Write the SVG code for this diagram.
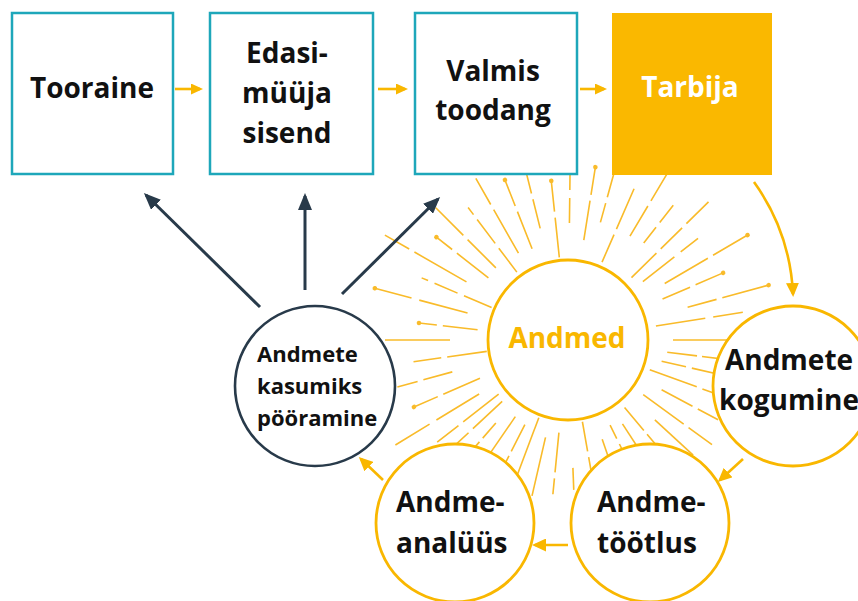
<svg xmlns="http://www.w3.org/2000/svg" width="858" height="601" viewBox="0 0 858 601">
  <style>
    text { font-family: "Open Sans", "Liberation Sans", sans-serif; font-weight: 700; }
    .box { fill: #ffffff; stroke: #1ea7ba; stroke-width: 2.5; }
    .lbl { font-size: 28px; fill: #111111; }
    .small { font-size: 22px; fill: #111111; }
    .ring { fill: #ffffff; stroke: #f9b700; stroke-width: 2.8; }
    .ring-dark { fill: #ffffff; stroke: #283a4a; stroke-width: 2.6; }
    .ray line { stroke: #f9bb2a; stroke-width: 1.6; fill: none; }
    .ray circle { fill: #f9bb2a; }
    .flow { stroke: #f9b700; stroke-width: 2.6; fill: none; }
    .use { stroke: #283a4a; stroke-width: 3; fill: none; }
  </style>
  <defs>
    <marker id="ao" viewBox="0 0 12 11" markerWidth="12" markerHeight="11" refX="9" refY="5.5" orient="auto" markerUnits="userSpaceOnUse">
      <path d="M0,0 L12,5.5 L0,11 z" fill="#f9b700"/>
    </marker>
    <marker id="aoL" viewBox="0 0 14 13" markerWidth="14" markerHeight="13" refX="11" refY="6.5" orient="auto" markerUnits="userSpaceOnUse">
      <path d="M0,0 L14,6.5 L0,13 z" fill="#f9b700"/>
    </marker>
    <marker id="ad" viewBox="0 0 17 14" markerWidth="17" markerHeight="14" refX="14" refY="7" orient="auto" markerUnits="userSpaceOnUse">
      <path d="M0,0 L17,7 L0,14 z" fill="#283a4a"/>
    </marker>
  </defs>

  <!-- radiating data rays around the central circle -->
  <g id="rays" class="ray" transform="translate(568,340)">
    <g transform="rotate(0)"><line x1="105" x2="170"/></g>
    <g transform="rotate(7)"><line x1="100" x2="165" stroke-dasharray="30 5 60"/></g>
    <g transform="rotate(12.8)"><line x1="96" x2="160" stroke-dasharray="25 6 60"/></g>
    <g transform="rotate(20)"><line x1="87" x2="158" stroke-dasharray="50 6 40"/></g>
    <g transform="rotate(28)"><line x1="106" x2="170" stroke-dasharray="35 6 40"/></g>
    <g transform="rotate(36)"><line x1="93" x2="178" stroke-dasharray="50 6 35"/></g>
    <g transform="rotate(42.6)"><line x1="118" x2="170"/></g>
    <g transform="rotate(50)"><line x1="88" x2="140" stroke-dasharray="30 5 40"/></g>
    <g transform="rotate(57)"><line x1="100" x2="150"/></g>
    <g transform="rotate(63.7)"><line x1="95" x2="150" stroke-dasharray="15 6 40"/></g>
    <g transform="rotate(71)"><line x1="105" x2="160"/></g>
    <g transform="rotate(80)"><line x1="83" x2="135" stroke-dasharray="30 6 30"/></g>
    <g transform="rotate(87.8)"><line x1="128" x2="150"/></g>
    <g transform="rotate(95.6)"><line x1="93" x2="155" stroke-dasharray="40 6 30"/></g>
    <g transform="rotate(103)"><line x1="100" x2="160"/></g>
    <g transform="rotate(110.6)"><line x1="83" x2="145"/></g>
    <g transform="rotate(117)"><line x1="95" x2="150" stroke-dasharray="30 5 30"/></g>
    <g transform="rotate(124.5)"><line x1="93" x2="140"/></g>
    <g transform="rotate(131)"><line x1="110" x2="160" stroke-dasharray="20 5 40"/></g>
    <g transform="rotate(137)"><line x1="90" x2="155" stroke-dasharray="40 6 30"/></g>
    <g transform="rotate(142)"><line x1="88" x2="166" stroke-dasharray="45 6 30"/></g>
    <g transform="rotate(148.7)"><line x1="104" x2="206" stroke-dasharray="50 8 40 8 60"/></g>
    <g transform="rotate(156.5)"><line x1="96" x2="168" stroke-dasharray="40 6 40"/><circle cx="168" cy="0" r="2.3"/></g>
    <g transform="rotate(164.6)"><line x1="120" x2="177" stroke-dasharray="30 6 30"/></g>
    <g transform="rotate(172)"><line x1="82" x2="156" stroke-dasharray="40 6 40"/></g>
    <g transform="rotate(180)"><line x1="118" x2="190" stroke-dasharray="65 8 100"/></g>
    <g transform="rotate(186.5)"><line x1="91" x2="150" stroke-dasharray="35 6 30"/><circle cx="150" cy="0" r="2.3"/></g>
    <g transform="rotate(195)"><line x1="104" x2="200" stroke-dasharray="50 8 50"/><circle cx="200" cy="0" r="2.3"/></g>
    <g transform="rotate(203)"><line x1="83" x2="159" stroke-dasharray="30 7 25 7 40"/></g>
    <g transform="rotate(209.8)"><line x1="117" x2="211" stroke-dasharray="60 6 40"/></g>
    <g transform="rotate(218)"><line x1="101" x2="167" stroke-dasharray="40 6 40"/><circle cx="167" cy="0" r="2.3"/></g>
    <g transform="rotate(225)"><line x1="102" x2="187" stroke-dasharray="40 6 40"/></g>
    <g transform="rotate(233)"><line x1="85" x2="166" stroke-dasharray="30 6 30 6 40"/></g>
    <g transform="rotate(240.3)"><line x1="100" x2="190" stroke-dasharray="50 6 30"/></g>
    <g transform="rotate(248.5)"><line x1="98" x2="172" stroke-dasharray="40 6 30"/><circle cx="172" cy="0" r="2.3"/></g>
    <g transform="rotate(256)"><line x1="115" x2="180" stroke-dasharray="30 6 40"/></g>
    <g transform="rotate(264)"><line x1="83" x2="160" stroke-dasharray="40 6 30"/><circle cx="160" cy="0" r="2.3"/></g>
    <g transform="rotate(270.7)"><line x1="117" x2="175" stroke-dasharray="25 8 30"/></g>
    <g transform="rotate(279)"><line x1="101" x2="175" stroke-dasharray="40 6 30"/><circle cx="175" cy="0" r="2.3"/></g>
    <g transform="rotate(285.4)"><line x1="122" x2="180" stroke-dasharray="20 6 40"/></g>
    <g transform="rotate(293.6)"><line x1="85" x2="165" stroke-dasharray="30 6 50"/></g>
    <g transform="rotate(300.8)"><line x1="121" x2="200" stroke-dasharray="35 6 50"/></g>
    <g transform="rotate(308)"><line x1="123" x2="171" stroke-dasharray="20 6 30"/></g>
    <g transform="rotate(315.5)"><line x1="89" x2="197" stroke-dasharray="35 6 30 6 40"/></g>
    <g transform="rotate(322)"><line x1="95" x2="165" stroke-dasharray="40 8 30"/></g>
    <g transform="rotate(329.7)"><line x1="112" x2="208" stroke-dasharray="50 6 50"/><circle cx="208" cy="0" r="2.3"/></g>
    <g transform="rotate(336.6)"><line x1="103" x2="169" stroke-dasharray="30 6 30"/><circle cx="169" cy="0" r="2.3"/></g>
    <g transform="rotate(344.7)"><line x1="124" x2="208" stroke-dasharray="30 6 50"/><circle cx="208" cy="0" r="2.3"/></g>
    <g transform="rotate(351)"><line x1="89" x2="177" stroke-dasharray="50 8 40"/></g>
  </g>

  <!-- value chain boxes -->
  <g id="tooraine">
    <rect class="box" x="12" y="13" width="161" height="161"/>
    <text class="lbl" x="92" y="98" text-anchor="middle">Tooraine</text>
  </g>
  <g id="edasimyyja">
    <rect class="box" x="210" y="13" width="163" height="161"/>
    <text class="lbl" x="287" text-anchor="middle"><tspan x="287" y="63">Edasi-</tspan><tspan x="287" y="103">müüja</tspan><tspan x="287" y="143">sisend</tspan></text>
  </g>
  <g id="valmis">
    <rect class="box" x="415" y="13" width="162" height="161"/>
    <text class="lbl" text-anchor="middle"><tspan x="493" y="81">Valmis</tspan><tspan x="493" y="120">toodang</tspan></text>
  </g>
  <g id="tarbija">
    <rect x="612" y="13" width="160" height="162" fill="#fab800"/>
    <text class="lbl" x="690" y="97" text-anchor="middle" fill="#ffffff" style="fill:#ffffff">Tarbija</text>
  </g>

  <!-- data cycle circles -->
  <g id="andmed">
    <circle class="ring" cx="568" cy="340" r="80"/>
    <text x="567" y="348" text-anchor="middle" font-size="28" fill="#f9b700">Andmed</text>
  </g>
  <g id="kogumine">
    <circle class="ring" cx="793" cy="386" r="80"/>
    <text class="lbl" text-anchor="middle"><tspan x="789" y="370">Andmete</tspan><tspan x="789" y="410">kogumine</tspan></text>
  </g>
  <g id="tootlus">
    <circle class="ring" cx="650" cy="523" r="79"/>
    <text class="lbl"><tspan x="597" y="512">Andme-</tspan><tspan x="597" y="553">töötlus</tspan></text>
  </g>
  <g id="analyys">
    <circle class="ring" cx="455" cy="523" r="79"/>
    <text class="lbl"><tspan x="396" y="512">Andme-</tspan><tspan x="396" y="553">analüüs</tspan></text>
  </g>
  <g id="kasumiks">
    <circle class="ring-dark" cx="315" cy="386" r="80"/>
    <text class="small"><tspan x="257" y="362">Andmete</tspan><tspan x="257" y="394">kasumiks</tspan><tspan x="257" y="426">pööramine</tspan></text>
  </g>

  <!-- connectors -->
  <g id="connectors">
    <line class="flow" x1="175" y1="89" x2="200" y2="89" marker-end="url(#ao)"/>
    <line class="flow" x1="378" y1="89" x2="405" y2="89" marker-end="url(#ao)"/>
    <line class="flow" x1="580" y1="89" x2="604" y2="89" marker-end="url(#ao)"/>
    <path class="flow" d="M754,182 Q790,232 793,294" marker-end="url(#aoL)"/>
    <line class="flow" x1="743" y1="459" x2="720" y2="480" marker-end="url(#aoL)"/>
    <line class="flow" x1="568" y1="545" x2="535" y2="545" marker-end="url(#aoL)"/>
    <line class="flow" x1="383" y1="480" x2="361" y2="459" marker-end="url(#aoL)"/>
    <line class="use" x1="260" y1="307" x2="146" y2="195" marker-end="url(#ad)"/>
    <line class="use" x1="305" y1="290" x2="305" y2="196" marker-end="url(#ad)"/>
    <line class="use" x1="342" y1="294" x2="438" y2="199" marker-end="url(#ad)"/>
  </g>
</svg>
